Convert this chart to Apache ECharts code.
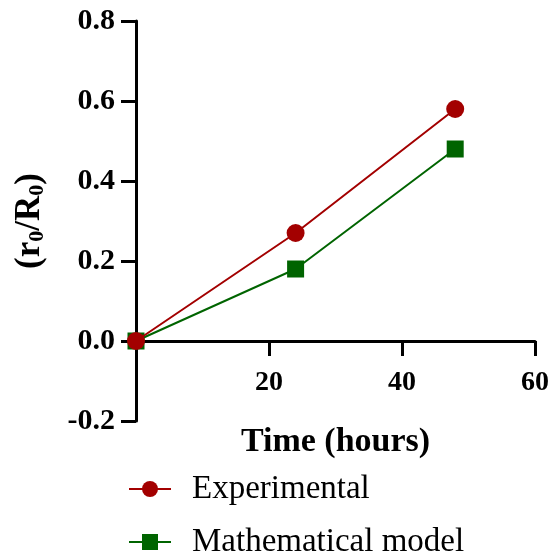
<!DOCTYPE html>
<html><head><meta charset="utf-8">
<script src="https://cdn.jsdelivr.net/npm/echarts@6/dist/echarts.min.js"></script>
<style>html,body{margin:0;padding:0;background:#fff}#c{width:552px;height:560px}</style>
</head><body><div id="c"></div>
<script>
const timeHours = [0, 24, 48];
const experimental = [0, 0.27, 0.58];
const mathModel = [0, 0.18, 0.48];
const seriesNames = ['Experimental', 'Mathematical model'];
const xTicks = [20, 40, 60];

const FONT = "'Times New Roman', 'Liberation Serif', serif";
const RED = '#A30000', GREEN = '#006400';
const legendBase = {
  orient: 'vertical', left: 123,
  itemWidth: 42, itemHeight: 20,
  textStyle: {fontFamily: FONT, fontSize: 33, color: '#000', lineHeight: 34, padding: [0,0,0,16]}
};
const chart = echarts.init(document.getElementById('c'));
chart.setOption({
  animation: false,
  grid: {left: 136, right: 15, top: 21, bottom: 139, containLabel: false},
  legend: [
    Object.assign({}, legendBase, {top: 467, data: [seriesNames[0]]}),
    Object.assign({}, legendBase, {top: 520, data: [seriesNames[1]]})
  ],
  xAxis: {
    type: 'value', min: 0, max: 60, interval: 20,
    axisLine: {onZero: true, lineStyle: {color: '#000', width: 3}},
    axisTick: {show: true, length: 15, lineStyle: {color: '#000', width: 3}},
    splitLine: {show: false},
    axisLabel: {margin: -52, fontFamily: FONT, fontWeight: 'bold', fontSize: 28, color: '#000',
      formatter: v => xTicks.includes(v) ? String(v) : ''},
    name: 'Time (hours)', nameLocation: 'middle', nameGap: 4,
    nameTextStyle: {fontFamily: FONT, fontWeight: 'bold', fontSize: 34, color: '#000'}
  },
  yAxis: {
    type: 'value', min: -0.2, max: 0.8, interval: 0.2,
    axisLine: {lineStyle: {color: '#000', width: 3}},
    axisTick: {show: true, length: 15, lineStyle: {color: '#000', width: 3}},
    splitLine: {show: false},
    axisLabel: {margin: 21, fontFamily: FONT, fontWeight: 'bold', fontSize: 30, color: '#000',
      formatter: v => v.toFixed(1)},
    name: '(r{s|0}/R{s|0})', nameLocation: 'middle', nameGap: 88, nameRotate: 90,
    nameTextStyle: {fontFamily: FONT, fontWeight: 'bold', fontSize: 35, color: '#000',
      rich: {s: {fontFamily: FONT, fontWeight: 'bold', fontSize: 22, color: '#000', padding: [15,0,0,0]}}}
  },
  series: [
    {name: seriesNames[0], type: 'line', z: 3, clip: false,
     data: timeHours.map((t,i)=>[t, experimental[i]]),
     symbol: 'circle', symbolSize: 18,
     itemStyle: {color: RED}, lineStyle: {color: RED, width: 2}},
    {name: seriesNames[1], type: 'line', z: 2, clip: false,
     data: timeHours.map((t,i)=>[t, mathModel[i]]),
     symbol: 'rect', symbolSize: 17,
     itemStyle: {color: GREEN}, lineStyle: {color: GREEN, width: 2}}
  ]
});
</script></body></html>
